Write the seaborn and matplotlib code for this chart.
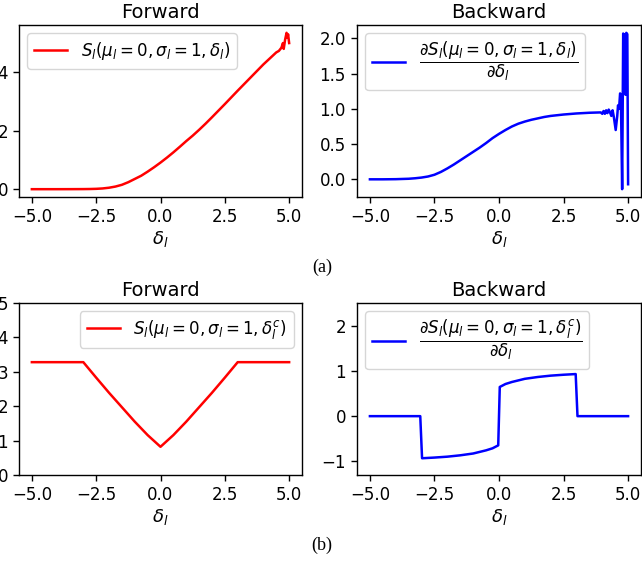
import numpy as np
import matplotlib
matplotlib.use("Agg")
import matplotlib.pyplot as plt
import seaborn as sns

# (a) forward / backward of S_l with delta_l
fwd_a_x = [-5, -4.5, -4, -3.5, -3, -2.75, -2.5, -2.25, -2, -1.75, -1.5, -1.25, -1,
           -0.75, -0.5, -0.25, 0, 0.25, 0.5, 0.75, 1, 1.25, 1.5, 1.75, 2, 2.5, 3,
           3.5, 4, 4.5, 4.6, 4.7, 4.76, 4.79, 4.84, 4.9, 4.93, 4.96, 5.0]
fwd_a_y = [0, 0, 0, 0.001, 0.003, 0.006, 0.012, 0.025, 0.05, 0.09, 0.15, 0.24, 0.35,
           0.46, 0.60, 0.75, 0.91, 1.08, 1.26, 1.45, 1.645, 1.83, 2.03, 2.24, 2.46,
           2.91, 3.37, 3.82, 4.27, 4.68, 4.73, 4.84, 5.0, 4.8, 5.1, 5.35, 5.18, 5.3, 5.0]

bwd_a_x = [-5, -4.5, -4, -3.5, -3.25, -3, -2.75, -2.5, -2.25, -2, -1.75, -1.5, -1.25,
           -1, -0.75, -0.5, -0.25, 0, 0.25, 0.5, 0.75, 1, 1.25, 1.5, 1.75, 2, 2.5,
           3, 3.5, 3.94, 4.0, 4.05, 4.1, 4.15, 4.2, 4.25, 4.3, 4.35, 4.4, 4.45, 4.52,
           4.58, 4.61, 4.65, 4.69, 4.72, 4.77, 4.81, 4.85, 4.88, 4.9, 4.93, 4.97, 5.0]
bwd_a_y = [0, 0, 0.002, 0.008, 0.015, 0.025, 0.04, 0.065, 0.105, 0.155, 0.21, 0.27,
           0.33, 0.39, 0.45, 0.515, 0.585, 0.645, 0.70, 0.75, 0.79, 0.82, 0.845, 0.865,
           0.885, 0.9, 0.92, 0.935, 0.945, 0.95, 0.93, 0.97, 0.93, 0.98, 0.94, 0.99,
           0.95, 0.9, 0.98, 0.88, 0.70, 0.9, 1.05, 1.0, 1.22, 1.2, -0.14, 2.07, 2.05,
           2.05, 1.2, 2.08, 2.06, -0.07]

# (b) forward / backward with clipped delta_l^c
fwd_b_x = [-5, -3, -2.5, -2, -1.5, -1, -0.5, 0, 0.5, 1, 1.5, 2, 2.5, 3, 5]
fwd_b_y = [3.28, 3.28, 2.83, 2.39, 1.97, 1.55, 1.16, 0.82, 1.16, 1.55, 1.97, 2.39,
           2.83, 3.28, 3.28]

bwd_b_x = [-5, -3.05, -2.98, -2.5, -2, -1.5, -1, -0.5, -0.25, -0.03, 0.03, 0.25, 0.5,
           1, 1.5, 2, 2.5, 2.97, 3.04, 5]
bwd_b_y = [0, 0, -0.93, -0.915, -0.895, -0.865, -0.825, -0.755, -0.71, -0.645, 0.645,
           0.71, 0.755, 0.825, 0.865, 0.895, 0.915, 0.93, 0, 0]

xticks = [-5.0, -2.5, 0.0, 2.5, 5.0]

plt.rcParams['font.size'] = 12
plt.rcParams['axes.linewidth'] = 1.0
plt.rcParams['xtick.major.size'] = 4.5
plt.rcParams['ytick.major.size'] = 4.5
plt.rcParams['xtick.major.width'] = 1.0
plt.rcParams['ytick.major.width'] = 1.0
plt.rcParams['legend.fontsize'] = 12

fig = plt.figure(figsize=(6.42, 5.61), dpi=100)
W, H = 642.0, 561.0

def make_ax(l, t, r, b):
    return fig.add_axes([l / W, 1 - b / H, (r - l) / W, (b - t) / H])

ax1 = make_ax(19, 25, 302, 197)
ax2 = make_ax(357, 25, 641, 197)
ax3 = make_ax(19, 303, 302, 475)
ax4 = make_ax(357, 303, 641, 475)

sns.lineplot(x=fwd_a_x, y=fwd_a_y, color='red', lw=1.8, ax=ax1,
             label=r'$S_l(\mu_l=0,\sigma_l=1,\delta_l)$')
sns.lineplot(x=bwd_a_x, y=bwd_a_y, color='blue', lw=1.8, ax=ax2,
             label=r'$\dfrac{\partial S_l(\mu_l=0,\sigma_l=1,\delta_l)}{\partial \delta_l}$')
sns.lineplot(x=fwd_b_x, y=fwd_b_y, color='red', lw=1.8, ax=ax3,
             label=r'$S_l(\mu_l=0,\sigma_l=1,\delta_l^c)$')
sns.lineplot(x=bwd_b_x, y=bwd_b_y, color='blue', lw=1.8, ax=ax4,
             label=r'$\dfrac{\partial S_l(\mu_l=0,\sigma_l=1,\delta_l^c)}{\partial \delta_l}$')

ax1.legend(loc='upper left')
ax2.legend(loc='upper left')
ax3.legend(loc='upper right')
ax4.legend(loc='upper left')

ax1.set_yticks([0, 2, 4])
ax2.set_yticks([0.0, 0.5, 1.0, 1.5, 2.0])
ax3.set_ylim(0, 5)
ax3.set_yticks([0, 1, 2, 3, 4, 5])
ax4.set_ylim(-1.3, 2.5)
ax4.set_yticks([-1, 0, 1, 2])

for ax, title in [(ax1, 'Forward'), (ax2, 'Backward'), (ax3, 'Forward'), (ax4, 'Backward')]:
    ax.set_title(title, fontsize=14, pad=5)
    ax.set_xticks(xticks)
    ax.set_xlim(-5.5, 5.5)
    ax.set_xlabel(r'$\delta_l$', fontsize=13, labelpad=2)

fig.text(322 / W, 1 - 267 / H, '(a)', ha='center', va='center',
         family='Liberation Serif', fontsize=13)
fig.text(322 / W, 1 - 545 / H, '(b)', ha='center', va='center',
         family='Liberation Serif', fontsize=13)

fig.savefig('out.png', dpi=100)
